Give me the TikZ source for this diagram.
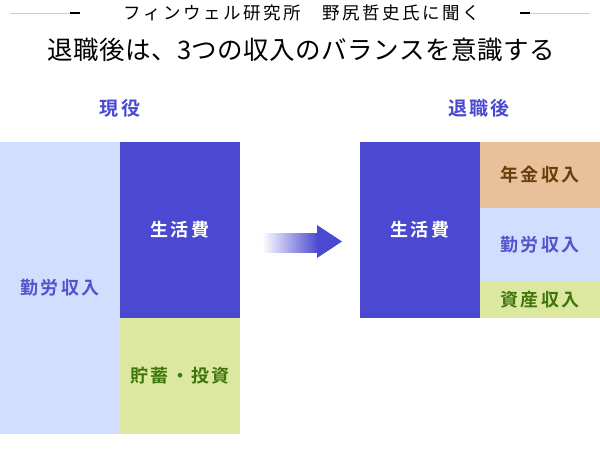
\documentclass[tikz,border=0pt]{standalone}
\usepackage{fontspec}
\setmainfont{Noto Sans CJK JP}[BoldFont={Noto Sans CJK JP Bold}]
\newfontfamily\lblfont[LetterSpace=13]{Noto Sans CJK JP Bold}
\newfontfamily\hdrfont[LetterSpace=14]{Noto Sans CJK JP}
\newfontfamily\ttlfont[LetterSpace=2]{Noto Sans CJK JP}
\usetikzlibrary{positioning}
\definecolor{dkblue}{HTML}{4B49D1}
\definecolor{ltblue}{HTML}{D1DEFE}
\definecolor{ltgreen}{HTML}{DCE8A0}
\definecolor{ltorange}{HTML}{E8C09A}
\definecolor{txtblue}{HTML}{5552D0}
\definecolor{txtgreen}{HTML}{3F760C}
\definecolor{txtbrown}{HTML}{6A3E0C}
\definecolor{rulegray}{HTML}{CCCCCC}
\tikzset{
  block/.style={rectangle, inner sep=0pt, minimum width=120pt, font=\lblfont\fontsize{18}{18}\selectfont},
  colhead/.style={inner sep=0pt, text=dkblue, font=\lblfont\fontsize{19}{19}\selectfont},
}
\begin{document}
\begin{tikzpicture}[x=1pt,y=-1pt]
\useasboundingbox (0,0) rectangle (600,451);
\fill[white] (0,0) rectangle (600,451);
% header
\node[inner sep=0pt, font=\hdrfont\fontsize{17.5}{18}\selectfont] (hdr) at (302,13) {フィンウェル研究所　野尻哲史氏に聞く};
\coordinate (l1) at (10,13); \coordinate (l2) at (70,13);
\coordinate (r1) at (530,13); \coordinate (r2) at (590,13);
\draw[rulegray, line width=0.8pt] (l1) -- (l2);
\draw[black, line width=1.2pt] (70,13) -- (80,13);
\draw[black, line width=1.2pt] (520,13) -- (530,13);
\draw[rulegray, line width=0.8pt] (r1) -- (r2);
\node[inner sep=0pt, font=\ttlfont\fontsize{25.5}{26}\selectfont] (title) at (301,50) {退職後は、3つの収入のバランスを意識する};
% column heads
\node[colhead] (genheading) at (120,108) {現役};
\node[colhead] (retheading) at (479,108) {退職後};
% left blocks
\node[block, fill=ltblue, minimum height=292pt, text=txtblue] (work1) at (60,288) {勤労収入};
\node[block, fill=dkblue, minimum height=176pt, text=white] (live1) at (180,230) {生活費};
\node[block, fill=ltgreen, minimum height=116pt, text=txtgreen] (save) at (180,376) {貯蓄・投資};
% right blocks
\node[block, fill=dkblue, minimum height=176pt, text=white] (live2) at (420,230) {生活費};
\node[block, fill=ltorange, minimum height=66pt, text=txtbrown] (pension) at (540,175) {年金収入};
\node[block, fill=ltblue, minimum height=74pt, text=txtblue] (work2) at (540,245) {勤労収入};
\node[block, fill=ltgreen, minimum height=36pt, text=txtgreen] (asset) at (540,300) {資産収入};
% arrow
\shade[left color=white, right color=dkblue] (262,233) rectangle (318,252);
\fill[dkblue] (317,225) -- (342,241.5) -- (317,258) -- cycle;
\end{tikzpicture}
\end{document}
